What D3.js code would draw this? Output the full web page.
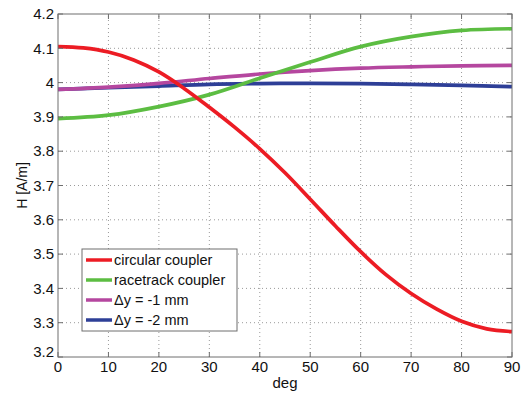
<!DOCTYPE html>
<html>
<head>
<meta charset="utf-8">
<script src="https://cdn.jsdelivr.net/npm/d3@7"></script>
<style>
  body { margin: 0; background: #fff; }
  svg text { font-family: Arial, "Liberation Sans", sans-serif; fill: #111; }
</style>
</head>
<body>
<div id="chart"></div>
<script>
const degRed = [0, 5, 10, 15, 20, 25, 30, 35, 40, 45, 50, 55, 60, 65, 70, 75, 80, 85, 90];
const circular = [4.105, 4.101, 4.089, 4.066, 4.031, 3.983, 3.928, 3.87, 3.807, 3.737, 3.66, 3.582, 3.507, 3.44, 3.385, 3.34, 3.304, 3.282, 3.274];

const deg = [0, 10, 20, 30, 40, 50, 60, 70, 80, 90];
const racetrack = [3.895, 3.905, 3.93, 3.965, 4.013, 4.06, 4.105, 4.134, 4.152, 4.157];
const dy1 = [3.98, 3.987, 3.998, 4.012, 4.025, 4.035, 4.042, 4.046, 4.049, 4.05];
const dy2 = [3.98, 3.985, 3.99, 3.995, 3.997, 3.998, 3.997, 3.995, 3.992, 3.988];

const xTicks = [0, 10, 20, 30, 40, 50, 60, 70, 80, 90];
const yTicks = [3.2, 3.3, 3.4, 3.5, 3.6, 3.7, 3.8, 3.9, 4.0, 4.1, 4.2];

const seriesNames = ['circular coupler', 'racetrack coupler', '\u0394y = -1 mm', '\u0394y = -2 mm'];
const seriesColors = ['#ec1c24', '#5cbd42', '#b5479f', '#2e3f97'];

const width = 525, height = 395;
const margin = { top: 14, right: 13, bottom: 38, left: 58 };

const svg = d3.select('#chart').append('svg')
  .attr('width', width)
  .attr('height', height);

const x = d3.scaleLinear().domain([0, 90]).range([margin.left, width - margin.right]);
const y = d3.scaleLinear().domain([3.2, 4.2]).range([height - margin.bottom, margin.top]);

const x0 = x(0), x1 = x(90), y0 = y(3.2), y1 = y(4.2);

// grid
const grid = svg.append('g').attr('stroke', '#9a9a9a').attr('stroke-width', 1)
  .attr('stroke-dasharray', '1,3');
xTicks.slice(1, -1).forEach(t => {
  grid.append('line').attr('x1', x(t)).attr('x2', x(t)).attr('y1', y0).attr('y2', y1);
});
yTicks.slice(1, -1).forEach(t => {
  grid.append('line').attr('x1', x0).attr('x2', x1).attr('y1', y(t)).attr('y2', y(t));
});

// lines
const line = d3.line().curve(d3.curveCatmullRom.alpha(0.5));
const allSeries = [
  degRed.map((d, i) => [x(d), y(circular[i])]),
  deg.map((d, i) => [x(d), y(racetrack[i])]),
  deg.map((d, i) => [x(d), y(dy1[i])]),
  deg.map((d, i) => [x(d), y(dy2[i])])
];
// red drawn last so it sits on top
[3, 2, 1, 0].forEach(i => {
  svg.append('path')
    .attr('d', line(allSeries[i]))
    .attr('fill', 'none')
    .attr('stroke', seriesColors[i])
    .attr('stroke-width', 3.7);
});

// box and ticks
const axisColor = '#6e6e6e';
svg.append('rect')
  .attr('x', x0).attr('y', y1)
  .attr('width', x1 - x0).attr('height', y0 - y1)
  .attr('fill', 'none').attr('stroke', axisColor).attr('stroke-width', 1);

const tickLen = 5;
xTicks.forEach(t => {
  svg.append('line').attr('x1', x(t)).attr('x2', x(t)).attr('y1', y0).attr('y2', y0 - tickLen).attr('stroke', axisColor);
  svg.append('line').attr('x1', x(t)).attr('x2', x(t)).attr('y1', y1).attr('y2', y1 + tickLen).attr('stroke', axisColor);
  svg.append('text')
    .attr('x', x(t)).attr('y', y0 + 15)
    .attr('text-anchor', 'middle')
    .attr('font-size', 15)
    .text(t);
});
yTicks.forEach(t => {
  svg.append('line').attr('x1', x0).attr('x2', x0 + tickLen).attr('y1', y(t)).attr('y2', y(t)).attr('stroke', axisColor);
  svg.append('line').attr('x1', x1).attr('x2', x1 - tickLen).attr('y1', y(t)).attr('y2', y(t)).attr('stroke', axisColor);
  svg.append('text')
    .attr('x', x0 - 4).attr('y', t === 3.2 ? y(t) - 5 : y(t))
    .attr('dy', '0.35em')
    .attr('text-anchor', 'end')
    .attr('font-size', 15)
    .text(t === 4 ? '4' : d3.format('.1f')(t));
});

// axis titles
svg.append('text')
  .attr('x', (x0 + x1) / 2).attr('y', y0 + 31)
  .attr('text-anchor', 'middle')
  .attr('font-size', 15)
  .text('deg');
svg.append('text')
  .attr('transform', `translate(22, ${(y0 + y1) / 2}) rotate(-90)`)
  .attr('dy', '0.35em')
  .attr('text-anchor', 'middle')
  .attr('font-size', 14)
  .text('H [A/m]');

// legend
const legend = svg.append('g').attr('transform', 'translate(82,249)');
legend.append('rect')
  .attr('width', 155).attr('height', 82)
  .attr('fill', '#fff').attr('stroke', axisColor);
seriesNames.forEach((name, i) => {
  const ly = 11 + i * 20;
  legend.append('line')
    .attr('x1', 4).attr('x2', 30).attr('y1', ly).attr('y2', ly)
    .attr('stroke', seriesColors[i]).attr('stroke-width', 3.5);
  legend.append('text')
    .attr('x', 32).attr('y', ly)
    .attr('dy', '0.35em')
    .attr('font-size', 14.5)
    .text(name);
});
</script>
</body>
</html>
